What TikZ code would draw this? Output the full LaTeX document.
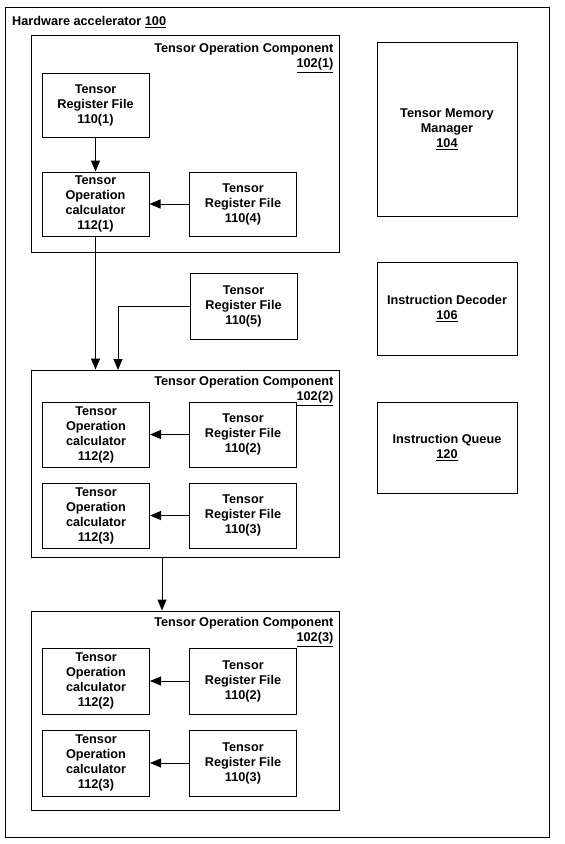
\documentclass[tikz,border=0pt]{standalone}
\usepackage{fontspec}
\setmainfont{Liberation Sans}
\usetikzlibrary{arrows.meta}

\begin{document}
\begin{tikzpicture}[x=1pt,y=-1pt,
  txt/.style={font=\bfseries\fontsize{12.7}{15}\selectfont},
  blk/.style={txt,draw,line width=1pt,minimum width=107pt,minimum height=64pt,inner sep=0pt,align=center},
  grp/.style={draw,line width=1pt,minimum width=308pt,inner sep=0pt},
  ttl/.style={txt,anchor=north east,align=right,inner sep=0pt},
  arr/.style={-{Triangle[length=11pt,width=9pt]},line width=1pt}]

\useasboundingbox (0,0) rectangle (565,844);

\node[draw,line width=0.8pt,minimum width=544pt,minimum height=830pt] (hw) at (277,422) {};

\node[txt,anchor=base west,inner sep=0pt] (hwt) at (12,25.5) {Hardware accelerator \underline{100}};

\node[grp,minimum height=217pt] (t1) at (185,143.5) {};
\node[ttl] (t1t) at ([shift={(-6,9)}]t1.north east) {Tensor Operation Component\\\underline{102(1)}};

\node[blk] (r1) at (95.5,105) {Tensor\\Register File\\110(1)};

\node[blk] (c1) at (95.5,204) {Tensor\\Operation\\calculator\\112(1)};

\node[blk] (r4) at (243,204) {Tensor\\Register File\\110(4)};

\node[blk,minimum height=66pt] (r5) at (243.5,306) {Tensor\\Register File\\110(5)};

\node[grp,minimum height=187pt] (t2) at (185,463.5) {};
\node[ttl] (t2t) at ([shift={(-6,7)}]t2.north east) {Tensor Operation Component\\\underline{102(2)}};

\node[blk,minimum height=65pt] (c2) at (96,434.5) {Tensor\\Operation\\calculator\\112(2)};
\node[blk,minimum height=65pt] (r2) at (243,434.5) {Tensor\\Register File\\110(2)};

\node[blk,minimum height=65pt] (c3) at (96,515.5) {Tensor\\Operation\\calculator\\112(3)};
\node[blk,minimum height=65pt] (r3) at (243,515.5) {Tensor\\Register File\\110(3)};

\node[grp,minimum height=199pt] (t3) at (185,710.5) {};
\node[ttl] (t3t) at ([shift={(-6,7)}]t3.north east) {Tensor Operation Component\\\underline{102(3)}};

\node[blk,minimum height=66pt] (cb2) at (96,681) {Tensor\\Operation\\calculator\\112(2)};
\node[blk,minimum height=66pt] (rb2) at (243,681) {Tensor\\Register File\\110(2)};

\node[blk,minimum height=66pt] (cb3) at (96,763) {Tensor\\Operation\\calculator\\112(3)};
\node[blk,minimum height=66pt] (rb3) at (243,763) {Tensor\\Register File\\110(3)};

\node[blk,minimum width=140pt,minimum height=174pt] (tmm) at (447,129) {Tensor Memory\\Manager\\\underline{104}};

\node[blk,minimum width=140pt,minimum height=93pt] (dec) at (447,308.5) {Instruction Decoder\\\underline{106}};

\node[blk,minimum width=140pt,minimum height=91pt] (que) at (447,447.5) {Instruction Queue\\\underline{120}};

\coordinate (p5) at (118,370);

\draw[arr] (r1) -- (c1);
\draw[arr] (r4) -- (c1);
\draw[arr] (c1) -- (c1 |- t2.north);
\draw[arr] (r5) -| (p5);
\draw[arr] (r2) -- (c2);
\draw[arr] (r3) -- (c3);
\draw[arr] ([shift={(-23,0)}]t2.south) -- ([shift={(-23,0)}]t2.south |- t3.north);
\draw[arr] (rb2) -- (cb2);
\draw[arr] (rb3) -- (cb3);

\end{tikzpicture}
\end{document}
